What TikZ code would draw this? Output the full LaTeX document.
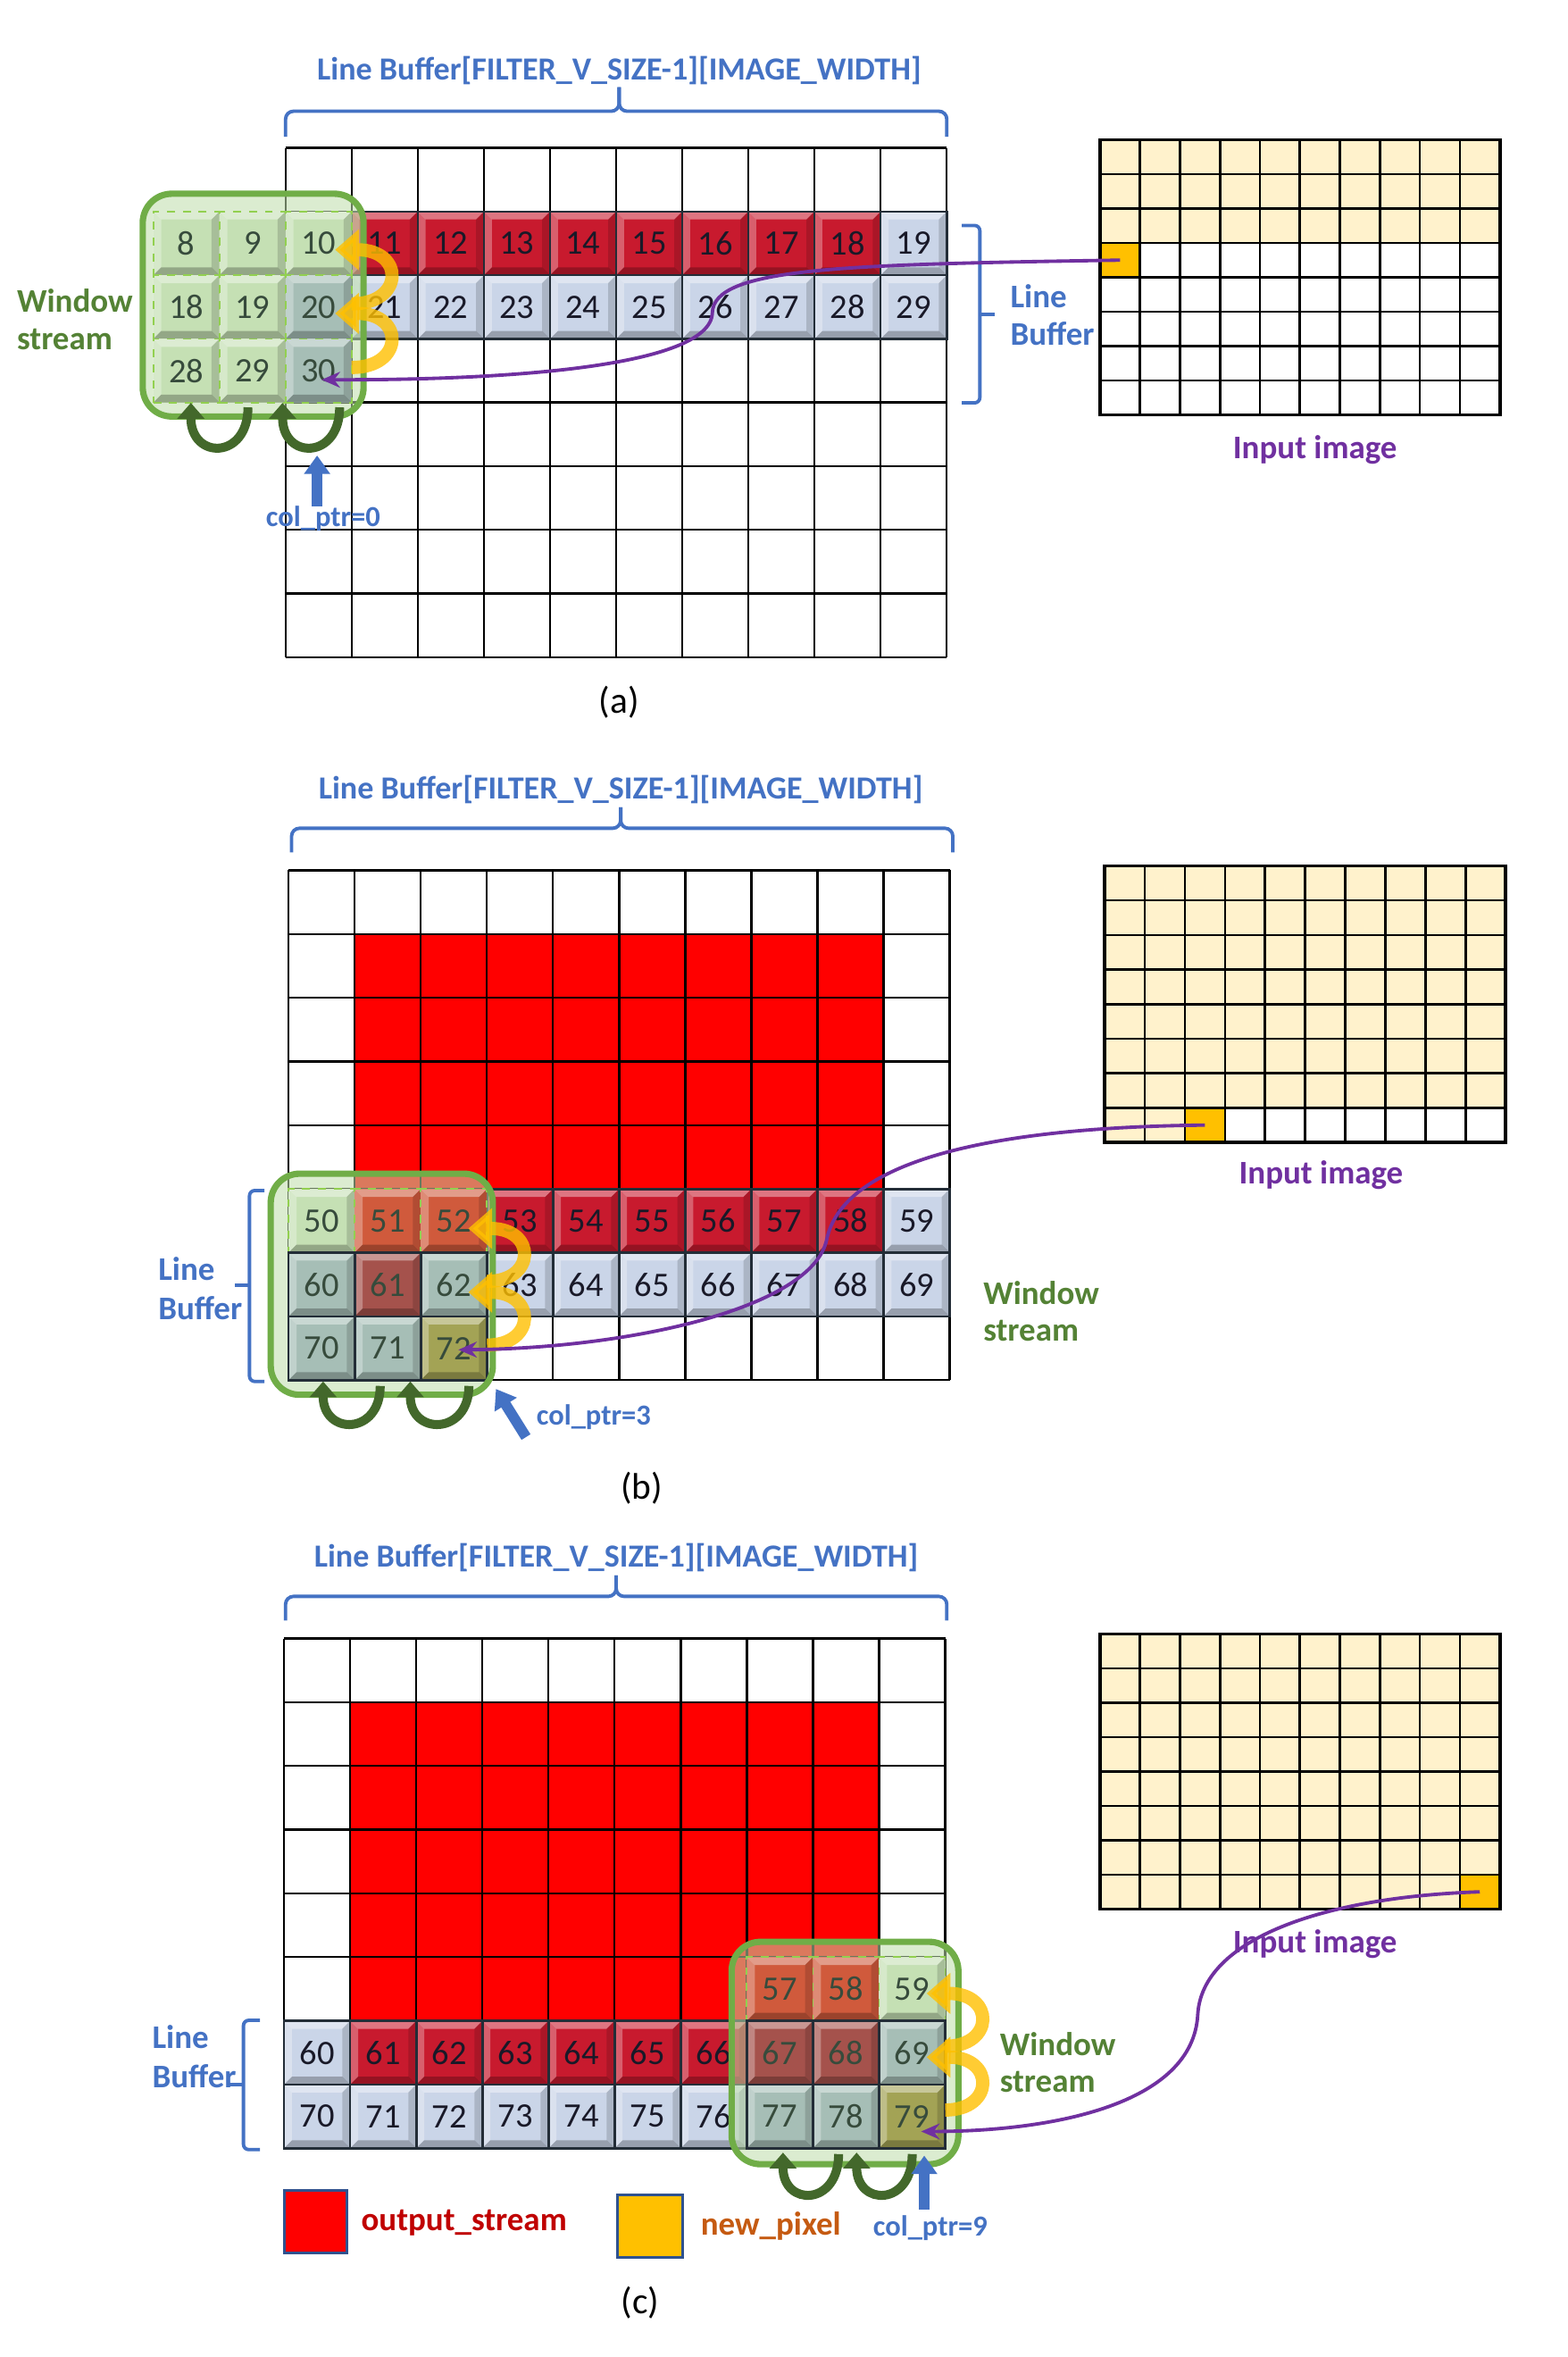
\documentclass[tikz,border=0pt]{standalone}
\usepackage{fontspec}
\setmainfont{Carlito}
\usetikzlibrary{calc,arrows.meta}
\definecolor{btnred}{RGB}{200,26,46}
\definecolor{btnblue}{RGB}{202,213,232}
\definecolor{btnedge}{RGB}{35,45,55}
\definecolor{wgreen}{RGB}{197,224,180}
\definecolor{wteal}{RGB}{166,190,182}
\definecolor{worange}{RGB}{208,90,60}
\definecolor{wbrown}{RGB}{165,82,76}
\definecolor{wolive}{RGB}{163,163,85}
\definecolor{winfill}{RGB}{190,222,170}
\definecolor{winedge}{RGB}{112,173,71}
\definecolor{dashgreen}{RGB}{146,208,80}
\definecolor{gold}{RGB}{255,192,0}
\definecolor{darkgreen}{RGB}{67,104,43}
\definecolor{lblue}{RGB}{68,114,196}
\definecolor{purp}{RGB}{112,48,160}
\definecolor{paleyel}{RGB}{255,242,204}
\definecolor{txtgreen}{RGB}{84,130,53}
\definecolor{outred}{RGB}{192,0,0}
\definecolor{npix}{RGB}{197,90,17}
\definecolor{legedge}{RGB}{47,82,143}
\definecolor{numtxt}{RGB}{25,25,40}
\definecolor{wintxt}{RGB}{55,75,60}
\tikzset{
  gline/.style={black, line width=0.8pt},
  iline/.style={black, line width=0.9pt},
  bevel/.style={path picture={
    \fill[white,opacity=.4] (path picture bounding box.north west) -- (path picture bounding box.north east) -- ([xshift=-3pt,yshift=-3pt]path picture bounding box.north east) -- ([xshift=3pt,yshift=-3pt]path picture bounding box.north west) -- cycle;
    \fill[white,opacity=.3] (path picture bounding box.north west) -- ([xshift=3pt,yshift=-3pt]path picture bounding box.north west) -- ([xshift=3pt,yshift=3pt]path picture bounding box.south west) -- (path picture bounding box.south west) -- cycle;
    \fill[black,opacity=.15] (path picture bounding box.north east) -- (path picture bounding box.south east) -- ([xshift=-3pt,yshift=3pt]path picture bounding box.south east) -- ([xshift=-3pt,yshift=-3pt]path picture bounding box.north east) -- cycle;
    \fill[black,opacity=.25] (path picture bounding box.south west) -- (path picture bounding box.south east) -- ([xshift=-3pt,yshift=3pt]path picture bounding box.south east) -- ([xshift=3pt,yshift=3pt]path picture bounding box.south west) -- cycle;
  }},
  btn/.style={draw=btnedge, line width=0.9pt, fill=#1, minimum width=0.88cm, minimum height=0.847cm, inner sep=0pt, font=\fontsize{13}{13}\selectfont, text=numtxt, bevel},
  wbtn/.style={btn=#1, draw=dashgreen, dashed, line width=0.6pt, text=wintxt},
  wbtns/.style={btn=#1, text=wintxt},
  winbox/.style={rounded corners=11pt},
  goldarr/.style={draw=gold, opacity=0.8, line width=5pt, -{Triangle[width=15pt,length=9pt]}},
  ugarr/.style={draw=darkgreen, line width=3.4pt, -{Triangle[width=10pt,length=6pt]}},
  ptrarr/.style={draw=lblue, line width=4pt, -{Triangle[width=9.5pt,length=7pt]}},
  purparr/.style={draw=purp, line width=1.3pt, -{Stealth[length=7pt,width=6pt]}},
  lab/.style={font=\fontsize{12.5}{14}\selectfont\bfseries, inner sep=0pt},
  ttl/.style={font=\fontsize{12.2}{14}\selectfont\bfseries, inner sep=0pt, text=lblue},
  ptrlab/.style={font=\fontsize{11}{13}\selectfont\bfseries, inner sep=0pt, text=lblue},
  captxt/.style={font=\fontsize{14}{16}\selectfont, inner sep=0pt},
  brc/.style={draw=lblue, line width=1.3pt, rounded corners=3pt},
  orangecell/.style={draw=black, line width=0.9pt, fill=gold, inner sep=0pt, minimum width=0.532cm, minimum height=0.4575cm},
}
\begin{document}
\begin{tikzpicture}[x=0.02cm, y=-0.02cm]
\useasboundingbox (0,0) rectangle (1043,1568);
\fill[white] (0,0) rectangle (1043,1568);

% ================= PANEL (a) =================
\node[ttl] (titleA) at (412,47) {Line Buffer[FILTER\_V\_SIZE-1][IMAGE\_WIDTH]};
\draw[brc] (190,91) -- (190,74) -- (412,74) -- (412,58);
\draw[brc] (630,91) -- (630,74) -- (412,74) -- (412,58);

\begin{scope}[shift={(190,98.4)}, x=0.88cm, y=-0.847cm]
  \foreach \i in {0,...,10} \draw[gline] (\i,0) -- (\i,8);
  \foreach \j in {0,...,8} \draw[gline] (0,\j) -- (10,\j);
  \foreach \k in {1,...,8} {\pgfmathtruncatemacro\n{10+\k}\node[btn=btnred] (a\n) at (\k+0.5,1.5) {\n};}
  \node[btn=btnblue] (a19) at (9.5,1.5) {19};
  \foreach \k in {1,...,9} {\pgfmathtruncatemacro\n{20+\k}\node[btn=btnblue] (a\n) at (\k+0.5,2.5) {\n};}
  \fill[winfill, fill opacity=0.55, winbox] (-2.16,0.72) rectangle (1.18,4.22);
  \node[wbtn=wgreen] (wa8) at (-1.5,1.5) {8};
  \node[wbtn=wgreen] (wa9) at (-0.5,1.5) {9};
  \node[wbtn=wgreen] (wa10) at (0.5,1.5) {10};
  \node[wbtn=wgreen] (wa18) at (-1.5,2.5) {18};
  \node[wbtn=wgreen] (wa19) at (-0.5,2.5) {19};
  \node[wbtn=wteal] (wa20) at (0.5,2.5) {20};
  \node[wbtn=wgreen] (wa28) at (-1.5,3.5) {28};
  \node[wbtn=wgreen] (wa29) at (-0.5,3.5) {29};
  \node[wbtn=wteal] (wa30) at (0.5,3.5) {30};
  \draw[winedge, line width=2.4pt, winbox] (-2.16,0.72) rectangle (1.18,4.22);
  \draw[goldarr] (1,3.45) .. controls (1.8,3.45) and (1.8,2.6) .. (0.75,2.6);
  \draw[goldarr] (1,2.45) .. controls (1.8,2.45) and (1.8,1.6) .. (0.75,1.6);
\end{scope}

\draw[ugarr] (165,271) .. controls (165,306) and (127,306) .. (127,268);
\draw[ugarr] (226,271) .. controls (226,306) and (188,306) .. (188,268);
\draw[ptrarr] (211,337) -- (211,303);
\node[ptrlab] (ptrA) at (215,345) {col\_ptr=0};

\node[lab, text=txtgreen, anchor=west] (wsA1) at (11,200) {Window};
\node[lab, text=txtgreen, anchor=west] (wsA2) at (11,226) {stream};

\draw[brc, rounded corners=2pt] (640,150) -- (652,150) -- (652,268) -- (640,268);
\draw[brc, rounded corners=0pt] (652,209) -- (662,209);
\node[lab, text=lblue, anchor=west] (lbA1) at (672,197) {Line};
\node[lab, text=lblue, anchor=west] (lbA2) at (672,222) {Buffer};

\begin{scope}[shift={(732,93)}, x=0.532cm, y=-0.4575cm]
  \fill[paleyel] (0,0) rectangle (10,3);
  \foreach \i in {0,...,10} \draw[iline] (\i,0) -- (\i,8);
  \foreach \j in {0,...,8} \draw[iline] (0,\j) -- (10,\j);
  \node[orangecell] (inA) at (0.5,3.5) {};
  \draw[black, line width=1.3pt] (0,0) rectangle (10,8);
\end{scope}
\node[lab, text=purp] (inlabA) at (875,299) {Input image};
\draw[purparr] (inA.center) .. controls (560,176) and (475,178) .. (474,208) .. controls (473,245) and (330,253) .. ($(wa30.center)+(2,6)$);
\node[captxt] (capA) at (412,467) {(a)};

% ================= PANEL (b) =================
\node[ttl] (titleB) at (413,525) {Line Buffer[FILTER\_V\_SIZE-1][IMAGE\_WIDTH]};
\draw[brc] (194,567) -- (194,551) -- (413,551) -- (413,537);
\draw[brc] (634,567) -- (634,551) -- (413,551) -- (413,537);

\begin{scope}[shift={(192,579)}, x=0.88cm, y=-0.848cm]
  \fill[red] (1,1) rectangle (9,5);
  \foreach \i in {0,...,10} \draw[gline] (\i,0) -- (\i,8);
  \foreach \j in {0,...,8} \draw[gline] (0,\j) -- (10,\j);
  \foreach \k in {3,...,8} {\pgfmathtruncatemacro\n{50+\k}\node[btn=btnred] (b\n) at (\k+0.5,5.5) {\n};}
  \node[btn=btnblue] (b59) at (9.5,5.5) {59};
  \foreach \k in {3,...,9} {\pgfmathtruncatemacro\n{60+\k}\node[btn=btnblue] (b\n) at (\k+0.5,6.5) {\n};}
  \fill[winfill, fill opacity=0.55, winbox] (-0.27,4.76) rectangle (3.09,8.23);
  \node[wbtn=wgreen] (wb50) at (0.5,5.5) {50};
  \node[wbtn=worange] (wb51) at (1.5,5.5) {51};
  \node[wbtn=worange] (wb52) at (2.5,5.5) {52};
  \node[wbtns=wteal] (wb60) at (0.5,6.5) {60};
  \node[wbtns=wbrown] (wb61) at (1.5,6.5) {61};
  \node[wbtns=wteal] (wb62) at (2.5,6.5) {62};
  \node[wbtns=wteal] (wb70) at (0.5,7.5) {70};
  \node[wbtns=wteal] (wb71) at (1.5,7.5) {71};
  \node[wbtns=wolive] (wb72) at (2.5,7.5) {72};
  \draw[winedge, line width=2.4pt, winbox] (-0.27,4.76) rectangle (3.09,8.23);
  \draw[goldarr] (3,7.45) .. controls (3.75,7.45) and (3.75,6.62) .. (2.72,6.62);
  \draw[goldarr] (3,6.45) .. controls (3.75,6.45) and (3.75,5.62) .. (2.72,5.62);
\end{scope}

\draw[ugarr] (253,922) .. controls (253,955) and (215,955) .. (215,919);
\draw[ugarr] (312,922) .. controls (312,955) and (273,955) .. (273,919);
\draw[ptrarr] (350,956) -- (330,924);
\node[ptrlab] (ptrB) at (395,943) {col\_ptr=3};

\node[lab, text=txtgreen, anchor=west] (wsB1) at (654,860) {Window};
\node[lab, text=txtgreen, anchor=west] (wsB2) at (654,885) {stream};

\draw[brc, rounded corners=2pt] (176,792) -- (166,792) -- (166,919) -- (176,919);
\draw[brc, rounded corners=0pt] (166,855) -- (156,855);
\node[lab, text=lblue, anchor=west] (lbB1) at (105,844) {Line};
\node[lab, text=lblue, anchor=west] (lbB2) at (105,870) {Buffer};

\begin{scope}[shift={(735,576)}, x=0.534cm, y=-0.46cm]
  \fill[paleyel] (0,0) rectangle (10,7);
  \fill[paleyel] (0,7) rectangle (2,8);
  \foreach \i in {0,...,10} \draw[iline] (\i,0) -- (\i,8);
  \foreach \j in {0,...,8} \draw[iline] (0,\j) -- (10,\j);
  \node[orangecell, minimum width=0.534cm, minimum height=0.46cm] (inB) at (2.5,7.5) {};
  \draw[black, line width=1.3pt] (0,0) rectangle (10,8);
\end{scope}
\node[lab, text=purp] (inlabB) at (879,782) {Input image};
\draw[purparr] (inB.center) .. controls (650,750) and (560,775) .. (550,825) .. controls (540,870) and (420,897) .. ($(wb72.center)+(3,1)$);
\node[captxt] (capB) at (427,990) {(b)};

% ================= PANEL (c) =================
\node[ttl] (titleC) at (410,1036) {Line Buffer[FILTER\_V\_SIZE-1][IMAGE\_WIDTH]};
\draw[brc] (190,1078) -- (190,1062) -- (410,1062) -- (410,1048);
\draw[brc] (630,1078) -- (630,1062) -- (410,1062) -- (410,1048);

\begin{scope}[shift={(189,1090)}, x=0.88cm, y=-0.848cm]
  \fill[red] (1,1) rectangle (9,6);
  \foreach \i in {0,...,10} \draw[gline] (\i,0) -- (\i,8);
  \foreach \j in {0,...,8} \draw[gline] (0,\j) -- (10,\j);
  \node[btn=btnblue] (c60) at (0.5,6.5) {60};
  \foreach \k in {1,...,6} {\pgfmathtruncatemacro\n{60+\k}\node[btn=btnred] (c\n) at (\k+0.5,6.5) {\n};}
  \foreach \k in {0,...,6} {\pgfmathtruncatemacro\n{70+\k}\node[btn=btnblue] (c\n) at (\k+0.5,7.5) {\n};}
  \fill[winfill, fill opacity=0.55, winbox] (6.77,4.76) rectangle (10.2,8.25);
  \node[wbtn=worange] (wc57) at (7.5,5.5) {57};
  \node[wbtn=worange] (wc58) at (8.5,5.5) {58};
  \node[wbtn=wgreen] (wc59) at (9.5,5.5) {59};
  \node[wbtns=wbrown] (wc67) at (7.5,6.5) {67};
  \node[wbtns=wbrown] (wc68) at (8.5,6.5) {68};
  \node[wbtns=wteal] (wc69) at (9.5,6.5) {69};
  \node[wbtns=wteal] (wc77) at (7.5,7.5) {77};
  \node[wbtns=wteal] (wc78) at (8.5,7.5) {78};
  \node[wbtns=wolive] (wc79) at (9.5,7.5) {79};
  \draw[winedge, line width=2.4pt, winbox] (6.77,4.76) rectangle (10.2,8.25);
  \draw[goldarr] (10,7.4) .. controls (10.75,7.4) and (10.75,6.57) .. (9.72,6.57);
  \draw[goldarr] (10,6.4) .. controls (10.75,6.4) and (10.75,5.57) .. (9.72,5.57);
\end{scope}

\draw[ugarr] (558,1433) .. controls (558,1468) and (521,1468) .. (521,1432);
\draw[ugarr] (607,1433) .. controls (607,1468) and (570,1468) .. (570,1432);
\draw[ptrarr] (615,1470) -- (615,1434);
\node[ptrlab] (ptrC) at (619,1482) {col\_ptr=9};

\node[lab, text=txtgreen, anchor=west] (wsC1) at (665,1360) {Window};
\node[lab, text=txtgreen, anchor=west] (wsC2) at (665,1385) {stream};

\draw[brc, rounded corners=2pt] (173,1344) -- (162,1344) -- (162,1430) -- (173,1430);
\draw[brc, rounded corners=0pt] (162,1387) -- (151,1387);
\node[lab, text=lblue, anchor=west] (lbC1) at (101,1355) {Line};
\node[lab, text=lblue, anchor=west] (lbC2) at (101,1381) {Buffer};

\begin{scope}[shift={(732,1087)}, x=0.532cm, y=-0.4575cm]
  \fill[paleyel] (0,0) rectangle (10,7);
  \fill[paleyel] (0,7) rectangle (9,8);
  \foreach \i in {0,...,10} \draw[iline] (\i,0) -- (\i,8);
  \foreach \j in {0,...,8} \draw[iline] (0,\j) -- (10,\j);
  \node[orangecell] (inC) at (9.5,7.5) {};
  \draw[black, line width=1.3pt] (0,0) rectangle (10,8);
\end{scope}
\node[lab, text=purp] (inlabC) at (875,1293) {Input image};
\draw[purparr] (inC.center) .. controls (880,1262) and (800,1290) .. (797,1340) .. controls (794,1400) and (700,1418) .. ($(wc79.center)+(6,10)$);

% legend
\node[draw=legedge, line width=1pt, fill=red, inner sep=0pt, minimum width=0.84cm, minimum height=0.84cm] (legR) at (210,1478) {};
\node[lab, text=outred, anchor=west] (legRt) at (240,1479) {output\_stream};
\node[draw=legedge, line width=1pt, fill=gold, inner sep=0pt, minimum width=0.86cm, minimum height=0.84cm] (legY) at (432.5,1481) {};
\node[lab, text=npix, anchor=west] (legYt) at (466,1481) {new\_pixel};
\node[captxt] (capC) at (426,1532) {(c)};
\end{tikzpicture}
\end{document}
